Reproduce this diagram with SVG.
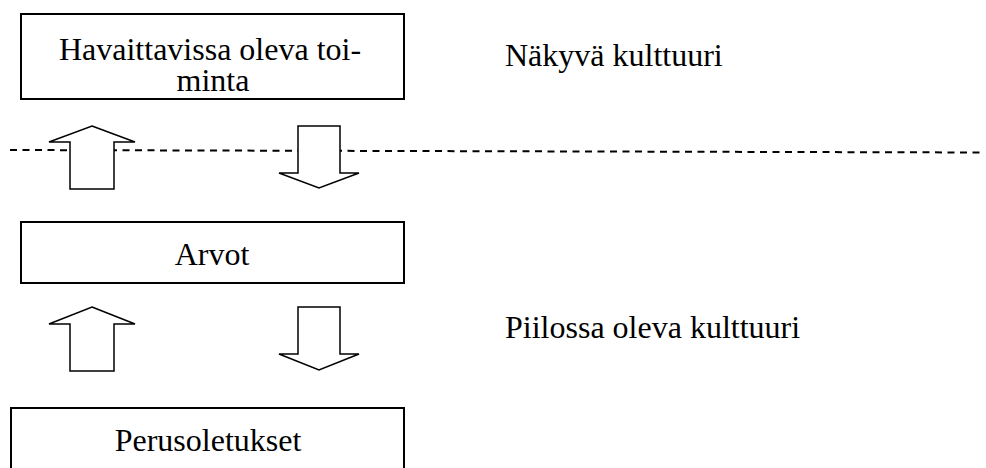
<svg xmlns="http://www.w3.org/2000/svg" width="986" height="468" viewBox="0 0 986 468">
<style>
  .box { fill: #ffffff; stroke: #000000; stroke-width: 2; }
  .arrow { fill: #ffffff; stroke: #000000; stroke-width: 1.5; stroke-linejoin: miter; }
  .txt { font-family: "Liberation Serif", "Times New Roman", serif; font-size: 32px; fill: #000000; }
  .mid { text-anchor: middle; }
  .dash { stroke: #000000; stroke-width: 2; stroke-dasharray: 7 5.5; fill: none; }
</style>
<rect width="986" height="468" fill="#ffffff"/>
<g id="boundary">
  <line class="dash" x1="10" y1="150" x2="984" y2="152.5"/>
</g>
<g id="connectors">
  <polygon class="arrow" points="92,126 135,142 114,142 114,189 70,189 70,142 49,142"/>
  <polygon class="arrow" points="298,126 340,126 340,173 359,173 319,188 279,173 298,173"/>
  <polygon class="arrow" points="92,307 135,324 114,324 114,371 70,371 70,324 49,324"/>
  <polygon class="arrow" points="298,307 340,307 340,354 359,354 319,370 279,354 298,354"/>
</g>
<g id="node-toiminta">
  <rect class="box" x="21" y="14" width="383" height="85"/>
  <text class="txt mid" x="210" y="60">Havaittavissa oleva toi-</text>
  <text class="txt mid" x="213" y="91">minta</text>
</g>
<g id="node-arvot">
  <rect class="box" x="21" y="222" width="383" height="61"/>
  <text class="txt mid" x="212" y="265">Arvot</text>
</g>
<g id="node-perusoletukset">
  <rect class="box" x="11" y="408" width="393" height="80"/>
  <text class="txt mid" x="208" y="451">Perusoletukset</text>
</g>
<g id="label-nakyva">
  <text class="txt" x="505" y="66">Näkyvä kulttuuri</text>
</g>
<g id="label-piilossa">
  <text class="txt" x="505" y="338">Piilossa oleva kulttuuri</text>
</g>
</svg>
